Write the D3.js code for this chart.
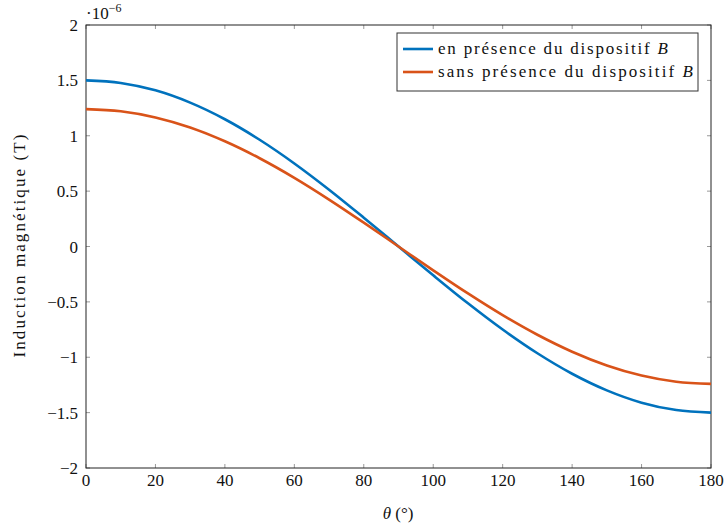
<!DOCTYPE html>
<html><head><meta charset="utf-8">
<script src="https://cdn.jsdelivr.net/npm/d3@7"></script>
<style>body{margin:0;background:#fff}svg{display:block}text{font-family:"Liberation Serif","DejaVu Serif",serif;fill:#111}</style>
</head><body><svg id="c" width="726" height="528"></svg>
<script>
const theta = [0,10,20,30,40,50,60,70,80,90,100,110,120,130,140,150,160,170,180];
const withDevice = [1.500,1.477,1.410,1.299,1.149,0.964,0.750,0.513,0.260,0,-0.260,-0.513,-0.750,-0.964,-1.149,-1.299,-1.410,-1.477,-1.500];
const withoutDevice = [1.240,1.221,1.165,1.074,0.950,0.797,0.620,0.424,0.215,0,-0.215,-0.424,-0.620,-0.797,-0.950,-1.074,-1.165,-1.221,-1.240];
const xTicks = [0,20,40,60,80,100,120,140,160,180];
const yTicks = [-2,-1.5,-1,-0.5,0,0.5,1,1.5,2];
const seriesNames = ["en présence du dispositif ", "sans présence du dispositif "];
const colors = ["#0072BD","#D95319"];

const L=86,R=711,T=25,B=468;
const svg=d3.select("#c");
const x=d3.scaleLinear().domain([0,180]).range([L,R]);
const y=d3.scaleLinear().domain([-2,2]).range([B,T]);

const fmt=v=>String(v).replace("-","\u2212");
const g=svg.append("g");
xTicks.forEach(v=>{
  g.append("line").attr("x1",x(v)).attr("x2",x(v)).attr("y1",B).attr("y2",B-4).attr("stroke","#999");
  g.append("line").attr("x1",x(v)).attr("x2",x(v)).attr("y1",T).attr("y2",T+4).attr("stroke","#999");
  g.append("text").attr("x",x(v)).attr("y",B+18).attr("text-anchor","middle").attr("font-size",17).text(v);
});
yTicks.forEach(v=>{
  g.append("line").attr("x1",L).attr("x2",L+4).attr("y1",y(v)).attr("y2",y(v)).attr("stroke","#999");
  g.append("line").attr("x1",R).attr("x2",R-4).attr("y1",y(v)).attr("y2",y(v)).attr("stroke","#999");
  g.append("text").attr("x",L-8).attr("y",y(v)+6).attr("text-anchor","end").attr("font-size",17).text(fmt(v));
});
svg.append("rect").attr("x",L).attr("y",T).attr("width",R-L).attr("height",B-T).attr("fill","none").attr("stroke","#222").attr("stroke-width",1);

const line=d3.line().x(d=>x(d[0])).y(d=>y(d[1])).curve(d3.curveMonotoneX);
[withDevice,withoutDevice].forEach((s,i)=>{
  svg.append("path").datum(theta.map((t,j)=>[t,s[j]])).attr("d",line).attr("fill","none").attr("stroke",colors[i]).attr("stroke-width",2.6);
});

// exponent
const ex=svg.append("text").attr("x",86).attr("y",19).attr("font-size",17);
ex.append("tspan").text("·10");
ex.append("tspan").attr("dy",-7).attr("font-size",12).text("\u22126");

// legend
svg.append("rect").attr("x",397).attr("y",33).attr("width",301).attr("height",58).attr("fill","#fff").attr("stroke","#333");
const legLen=[230,255];
seriesNames.forEach((n,i)=>{
  const yy=49+i*23;
  svg.append("line").attr("x1",403).attr("x2",433).attr("y1",yy).attr("y2",yy).attr("stroke",colors[i]).attr("stroke-width",2.6);
  const t=svg.append("text").attr("x",438).attr("y",yy+5).attr("font-size",17).attr("textLength",legLen[i]).attr("lengthAdjust","spacing");
  t.append("tspan").text(n);
  t.append("tspan").attr("font-style","italic").text("B");
});

// axis labels
const xl=svg.append("text").attr("x",398).attr("y",519).attr("text-anchor","middle").attr("font-size",17);
xl.append("tspan").attr("font-style","italic").text("θ");
xl.append("tspan").text(" (°)");
svg.append("text").attr("transform","translate(25,246) rotate(-90)").attr("text-anchor","middle").attr("font-size",17).attr("textLength",223).attr("lengthAdjust","spacing").text("Induction magnétique (T)");
</script></body></html>
